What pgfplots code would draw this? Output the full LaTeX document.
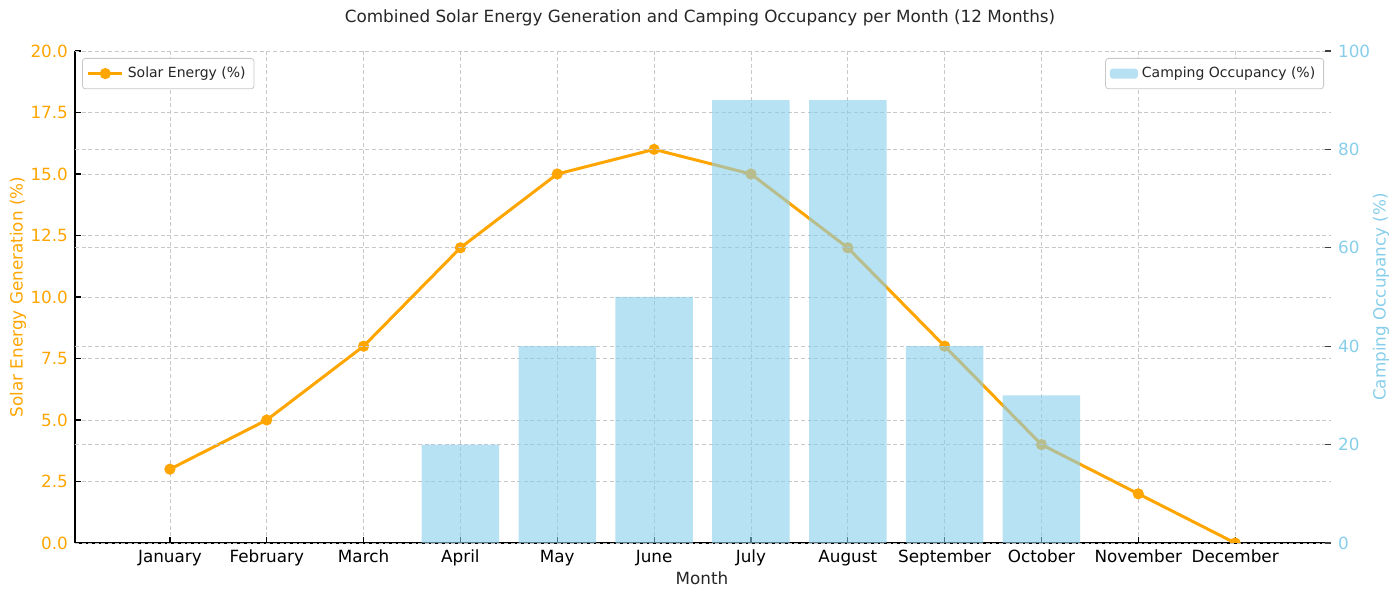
\documentclass[border=0pt]{standalone}
\usepackage{fontspec}
\setmainfont{DejaVu Sans}
\usepackage{pgfplots}
\pgfplotsset{compat=1.18}
\definecolor{sorange}{RGB}{255,165,0}
\definecolor{sky}{RGB}{135,206,235}
\definecolor{txt}{RGB}{38,38,38}
\definecolor{gridc}{RGB}{200,200,200}
\newcommand{\tickfont}{\fontsize{8.4}{10}\selectfont}
\newcommand{\legfont}{\fontsize{7}{8.5}\selectfont}
\begin{document}
\begin{tikzpicture}[x=1pt,y=1pt]
\useasboundingbox (0,0) rectangle (700,298.5);
\pgfplotsset{
  common/.style={
    at={(37.5pt,27pt)}, anchor=south west, scale only axis,
    width=628pt, height=246pt,
    xmin=-0.98, xmax=11.99,
    /pgf/number format/assume math mode=true,
    tick align=inside, major tick length=3pt,
    grid style={dash pattern=on 2pt off 1.3pt, gridc, line width=0.4pt},
    legend cell align=left,
  }
}
\begin{axis}[common,
  ymin=0, ymax=20,
  axis x line*=bottom, axis y line*=left,
  axis line style={black, line width=0.7pt},
  xtick={0,...,11},
  xticklabels={January,February,March,April,May,June,July,August,September,October,November,December},
  ytick={0,2.5,...,20},
  yticklabel style={/pgf/number format/fixed, /pgf/number format/fixed zerofill, /pgf/number format/precision=1, font=\tickfont, text=sorange},
  xticklabel style={font=\tickfont, text=black},
  tick style={black, line width=0.6pt},
  grid=major,
  clip marker paths=true,
  legend style={at={(0,1)}, anchor=north west, xshift=3.5pt, yshift=-3.5pt,
    draw=gridc, rounded corners=1.5pt, text=txt, inner sep=2.2pt, font=\legfont},
  legend image code/.code={
    \draw[sorange, line width=1.5pt] (0pt,0pt) -- (17pt,0pt);
    \fill[sorange] (8.5pt,0pt) circle (2pt);
  },
]
\addplot[sorange, line width=1.5pt, mark=*, mark size=2pt, mark options={fill=sorange, draw=sorange}]
  coordinates {(0,3)(1,5)(2,8)(3,12)(4,15)(5,16)(6,15)(7,12)(8,8)(9,4)(10,2)(11,0)};
\addlegendentry{Solar Energy (\%)}
\end{axis}
\begin{axis}[common,
  ymin=0, ymax=100,
  axis x line=none, xtick=\empty,
  axis y line*=right,
  y axis line style={draw=none},
  ytick={0,20,...,100},
  ymajorgrids,
  yticklabel style={font=\tickfont, text=sky},
  ytick style={black!75, line width=0.6pt},
  legend style={at={(1,1)}, anchor=north east, xshift=-3.5pt, yshift=-3.5pt,
    draw=gridc, rounded corners=1.5pt, text=txt, inner sep=2.2pt, font=\legfont},
  legend image code/.code={
    \fill[sky, fill opacity=0.6] (0pt,-2.5pt) rectangle (14pt,2.5pt);
  },
]
\addplot[ybar, bar width=0.8, fill=sky, fill opacity=0.6, draw=none]
  coordinates {(3,20)(4,40)(5,50)(6,90)(7,90)(8,40)(9,30)};
\addlegendentry{Camping Occupancy (\%)}
\end{axis}
\node[text=txt, font=\tickfont] at (350,289.5) {Combined Solar Energy Generation and Camping Occupancy per Month (12 Months)};
\node[text=txt, font=\tickfont] at (351,9.5) {Month};
\node[text=sorange, font=\tickfont, rotate=90] at (9,150) {Solar Energy Generation (\%)};
\node[text=sky, font=\tickfont, rotate=90] at (690.5,150) {Camping Occupancy (\%)};
\end{tikzpicture}
\end{document}
